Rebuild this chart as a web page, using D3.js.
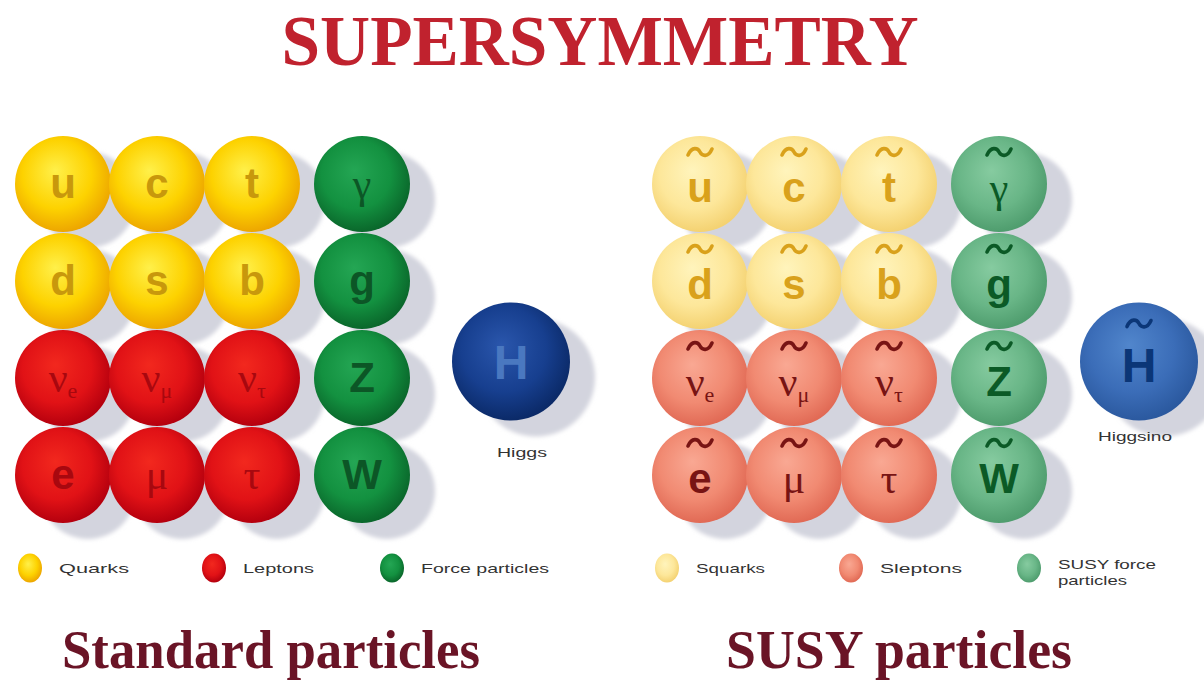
<!DOCTYPE html>
<html>
<head>
<meta charset="utf-8">
<script src="https://cdn.jsdelivr.net/npm/d3@7"></script>
<style>
  body { margin: 0; background: #fff; }
  svg { display: block; }
</style>
</head>
<body>
<div id="chart"></div>
<script>
// particle table, row by row (3 matter columns + force column)
const quarkSymbols = ["u", "c", "t", "d", "s", "b"];
const leptonSymbols = ["ν:e", "ν:μ", "ν:τ", "e", "μ", "τ"];
const forceSymbols = ["γ", "g", "Z", "W"];
const higgsSymbol = "H";
const higgsLabels = ["Higgs", "Higgsino"];
const legendStd = ["Quarks", "Leptons", "Force particles"];
const legendSusy = ["Squarks", "Sleptons", "SUSY force|particles"];
const panelTitles = ["Standard particles", "SUSY particles"];
const mainTitle = "SUPERSYMMETRY";

const width = 1204, height = 683;
const svg = d3.select("#chart").append("svg")
  .attr("width", width).attr("height", height);
svg.append("rect").attr("width", width).attr("height", height).attr("fill", "#fff");

const defs = svg.append("defs");
defs.append("filter").attr("id", "blur")
  .attr("x", "-30%").attr("y", "-30%").attr("width", "160%").attr("height", "160%")
  .append("feGaussianBlur").attr("stdDeviation", 2);

// colours: [light, base, rim, text]
const palette = {
  quark: ["#fff04a", "#fdd200", "#eda600", "#c8980c"],
  lepton: ["#f2281e", "#e11216", "#b5000e", "#a8080f"],
  force: ["#24a654", "#139140", "#0a672b", "#0c5626"],
  higgs: ["#2a56ac", "#173f8f", "#0b2a68", "#4a78c0"],
  squark: ["#fff4bc", "#fde79a", "#f4d272", "#d9a11b"],
  slepton: ["#f9a893", "#f18a72", "#e16a55", "#781414"],
  sforce: ["#86cba0", "#69b687", "#4f9d6e", "#0b5a26"],
  shiggs: ["#5186cc", "#3b6db8", "#2b599f", "#0b3677"]
};

Object.entries(palette).forEach(([key, c]) => {
  const g = defs.append("radialGradient").attr("id", "grad-" + key)
    .attr("cx", "45%").attr("cy", "42%").attr("r", "58%").attr("fx", "42%").attr("fy", "36%");
  g.append("stop").attr("offset", "0%").attr("stop-color", c[0]);
  g.append("stop").attr("offset", "62%").attr("stop-color", c[1]);
  g.append("stop").attr("offset", "100%").attr("stop-color", c[2]);
});

// positions
const colX = d3.scaleOrdinal().domain(["m0", "m1", "m2", "f", "h"]).range([63, 157, 252, 362, 511]);
const rowY = d3.scaleLinear().domain([0, 3]).range([184, 475]);
const panelX = d3.scaleOrdinal().domain(["std", "susy"]).range([0, 637]);
const legendX = d3.scaleOrdinal().domain([0, 1, 2]).range([30, 214, 392]);
const R = 48, RH = 59;

function buildCells(susy) {
  const cells = [];
  quarkSymbols.forEach((s, i) => cells.push({ sym: s, grp: susy ? "squark" : "quark", col: "m" + (i % 3), row: Math.floor(i / 3), r: R }));
  leptonSymbols.forEach((s, i) => cells.push({ sym: s, grp: susy ? "slepton" : "lepton", col: "m" + (i % 3), row: 2 + Math.floor(i / 3), r: R }));
  forceSymbols.forEach((s, i) => cells.push({ sym: s, grp: susy ? "sforce" : "force", col: "f", row: i, r: R }));
  cells.push({ sym: higgsSymbol, grp: susy ? "shiggs" : "higgs", col: "h", row: 1.83, r: RH });
  return cells;
}

const greek = /[γνμτ]/;
const sans = "'Liberation Sans', Arial, sans-serif";
const serif = "'Liberation Serif', 'DejaVu Serif', serif";

function drawPanel(key, susy) {
  const ox = panelX(key);
  const cells = buildCells(susy);
  const cy = d => rowY(d.row);
  const cx = d => ox + colX(d.col) + (d.col === "h" && susy ? -9 : 0);

  const g = svg.append("g");
  // soft shadows
  g.selectAll(".shadow").data(cells).join("circle")
    .attr("cx", d => cx(d) + 25).attr("cy", d => cy(d) + 16).attr("r", d => d.r)
    .attr("fill", "#d3d4de").attr("filter", "url(#blur)");

  const balls = g.selectAll(".ball").data(cells).join("g")
    .attr("transform", d => `translate(${cx(d)},${cy(d)})`);
  balls.append("circle").attr("r", d => d.r).attr("fill", d => `url(#grad-${d.grp})`);

  balls.each(function (d) {
    const b = d3.select(this);
    const col = palette[d.grp][3];
    const [main, sub] = d.sym.split(":");
    const isGreek = greek.test(main);
    const isH = d.col === "h";
    const baseY = isH ? (susy ? 20 : 17) : (susy ? 18 : 14);
    const t = b.append("text").attr("text-anchor", "middle").attr("y", baseY)
      .attr("fill", col)
      .style("font-family", isGreek ? serif : sans)
      .style("font-weight", isGreek ? "normal" : "bold")
      .style("font-size", (isH ? 48 : 42) + "px");
    t.append("tspan").text(main);
    if (sub) {
      t.append("tspan").attr("dy", 6).style("font-size", "22px").text(sub);
    }
    if (susy) {
      const ty = isH ? -38 : -32;
      const w = 12;
      b.append("path")
        .attr("d", `M${-w},${ty + 3} C${-w + 4},${ty - 6} ${-2},${ty - 4} 0,${ty} S${w - 4},${ty + 6} ${w},${ty - 3}`)
        .attr("fill", "none").attr("stroke", col).attr("stroke-width", 3.6).attr("stroke-linecap", "round");
    }
  });

  // Higgs label
  svg.append("text")
    .attr("x", ox + colX("h") + (susy ? -13 : 11)).attr("y", susy ? 441 : 457)
    .attr("text-anchor", "middle").attr("fill", "#333")
    .attr("textLength", susy ? 74 : 50).attr("lengthAdjust", "spacingAndGlyphs")
    .style("font-family", sans).style("font-size", "13px")
    .text(higgsLabels[susy ? 1 : 0]);

  // legend
  const legend = susy ? legendSusy : legendStd;
  const groups = susy ? ["squark", "slepton", "sforce"] : ["quark", "lepton", "force"];
  const lengths = susy ? [[69], [82], [98, 69]] : [[70], [71], [128]];
  const lg = svg.append("g").selectAll("g").data(legend).join("g")
    .attr("transform", (d, i) => `translate(${ox + legendX(i)},568)`);
  lg.append("ellipse").attr("rx", 12).attr("ry", 14.5).attr("fill", (d, i) => `url(#grad-${groups[i]})`);
  lg.append("text").attr("fill", "#333")
    .style("font-family", sans).style("font-size", "13.5px")
    .each(function (d, i) {
      const lines = d.split("|");
      lines.forEach((line, j) => {
        d3.select(this).append("tspan").attr("x", 29).attr("y", (lines.length > 1 ? 1 : 5) + j * 16)
          .attr("textLength", lengths[i][j]).attr("lengthAdjust", "spacingAndGlyphs").text(line);
      });
    });

  // panel title
  svg.append("text")
    .attr("x", ox + (susy ? 262 : 271)).attr("y", 668).attr("text-anchor", "middle")
    .attr("fill", "#6a1426")
    .attr("textLength", susy ? 346 : 418).attr("lengthAdjust", "spacingAndGlyphs")
    .style("font-family", serif).style("font-weight", "bold")
    .style("font-size", "54px")
    .text(panelTitles[susy ? 1 : 0]);
}

drawPanel("std", false);
drawPanel("susy", true);

svg.append("text")
  .attr("x", 600).attr("y", 65).attr("text-anchor", "middle")
  .attr("fill", "#c0222e")
  .attr("textLength", 637).attr("lengthAdjust", "spacingAndGlyphs")
  .style("font-family", serif).style("font-weight", "bold")
  .style("font-size", "71px")
  .text(mainTitle);
</script>
</body>
</html>
